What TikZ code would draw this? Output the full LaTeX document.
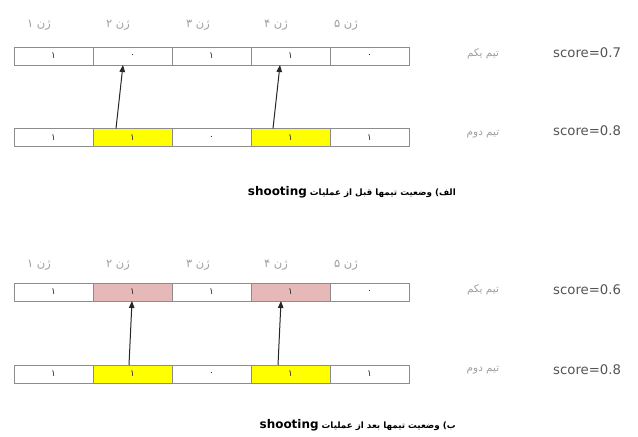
\documentclass[tikz,border=0pt]{standalone}
\usepackage{fontspec}
\setmainfont{DejaVu Sans}
\newfontfamily\fa[Script=Arabic]{DejaVu Sans}
\TeXXeTstate=1
\usetikzlibrary{arrows.meta}
\definecolor{cellgray}{HTML}{8C8C8C}
\definecolor{pinkcell}{HTML}{E6B8B7}
\definecolor{yelcell}{HTML}{FFFF00}
\definecolor{labgray}{HTML}{A0A0A0}
\definecolor{scoregray}{HTML}{555555}
\newcommand{\latbig}[1]{\beginL{\fontsize{12}{14}\selectfont #1}\endL}
\begin{document}
\begin{tikzpicture}[x=1bp,y=-1bp,
  cell/.style={draw=cellgray, line width=0.8bp, minimum width=79bp, minimum height=18bp,
    inner sep=0pt, outer sep=0pt, font=\fa\fontsize{9}{10}\selectfont, text=black!85},
  ylw/.style={cell, fill=yelcell},
  pnk/.style={cell, fill=pinkcell},
  gene/.style={inner sep=0pt, font=\fa\fontsize{11.5}{13}\selectfont, text=labgray},
  team/.style={inner sep=0pt, font=\fa\fontsize{10.5}{12}\selectfont, text=labgray},
  score/.style={inner sep=0pt, anchor=west, font=\fontsize{13.3}{15}\selectfont, text=scoregray},
  capt/.style={inner sep=0pt, anchor=east, font=\fa\bfseries\fontsize{8.8}{12}\selectfont, text=black},
  arr/.style={line width=1bp, draw=black!85, -{Triangle[length=7bp,width=5.5bp]}}
]
\useasboundingbox (0,0) rectangle (638,437);
\fill[white] (0,0) rectangle (638,437);

% ---------- part A ----------
\node[gene] (ga1) at (39,25) {\beginR ژن ۱\endR};
\node[gene] (ga2) at (118,25) {\beginR ژن ۲\endR};
\node[gene] (ga3) at (198,25) {\beginR ژن ۳\endR};
\node[gene] (ga4) at (276,25) {\beginR ژن ۴\endR};
\node[gene] (ga5) at (346,25) {\beginR ژن ۵\endR};

\node[cell] (a1) at (53.5,56) {۱};
\node[cell] (a2) at (132.5,56) {۰};
\node[cell] (a3) at (211.5,56) {۱};
\node[cell] (a4) at (290.5,56) {۱};
\node[cell] (a5) at (369.5,56) {۰};

\node[cell] (b1) at (53.5,137.5) {۱};
\node[ylw] (b2) at (132.5,137.5) {۱};
\node[cell] (b3) at (211.5,137.5) {۰};
\node[ylw] (b4) at (290.5,137.5) {۱};
\node[cell] (b5) at (369.5,137.5) {۱};

\draw[arr] ([xshift=23bp]b2.north west) -- ([xshift=30bp]a2.south west);
\draw[arr] ([xshift=22bp]b4.north west) -- ([xshift=29bp]a4.south west);

\node[team] (ta1) at (483,54) {\beginR تیم یکم\endR};
\node[team] (ta2) at (483,134) {\beginR تیم دوم\endR};
\node[score] (sa1) at (553,53) {score=0.7};
\node[score] (sa2) at (553,131) {score=0.8};

\node[capt] (capA) at (456,192) {\beginR الف) وضعیت تیمها قبل از عملیات \latbig{shooting}\endR};

% ---------- part B ----------
\node[gene] (gb1) at (39,265) {\beginR ژن ۱\endR};
\node[gene] (gb2) at (118,265) {\beginR ژن ۲\endR};
\node[gene] (gb3) at (198,265) {\beginR ژن ۳\endR};
\node[gene] (gb4) at (276,265) {\beginR ژن ۴\endR};
\node[gene] (gb5) at (346,265) {\beginR ژن ۵\endR};

\node[cell] (c1) at (53.5,292) {۱};
\node[pnk] (c2) at (132.5,292) {۱};
\node[cell] (c3) at (211.5,292) {۱};
\node[pnk] (c4) at (290.5,292) {۱};
\node[cell] (c5) at (369.5,292) {۰};

\node[cell] (d1) at (53.5,374) {۱};
\node[ylw] (d2) at (132.5,374) {۱};
\node[cell] (d3) at (211.5,374) {۰};
\node[ylw] (d4) at (290.5,374) {۱};
\node[cell] (d5) at (369.5,374) {۱};

\draw[arr] ([xshift=36bp]d2.north west) -- ([xshift=39bp]c2.south west);
\draw[arr] ([xshift=27bp]d4.north west) -- ([xshift=30bp]c4.south west);

\node[team] (tb1) at (483,290) {\beginR تیم یکم\endR};
\node[team] (tb2) at (483,370) {\beginR تیم دوم\endR};
\node[score] (sb1) at (553,290) {score=0.6};
\node[score] (sb2) at (553,370) {score=0.8};

\node[capt] (capB) at (456,425) {\beginR ب) وضعیت تیمها بعد از عملیات \latbig{shooting}\endR};
\end{tikzpicture}
\end{document}
